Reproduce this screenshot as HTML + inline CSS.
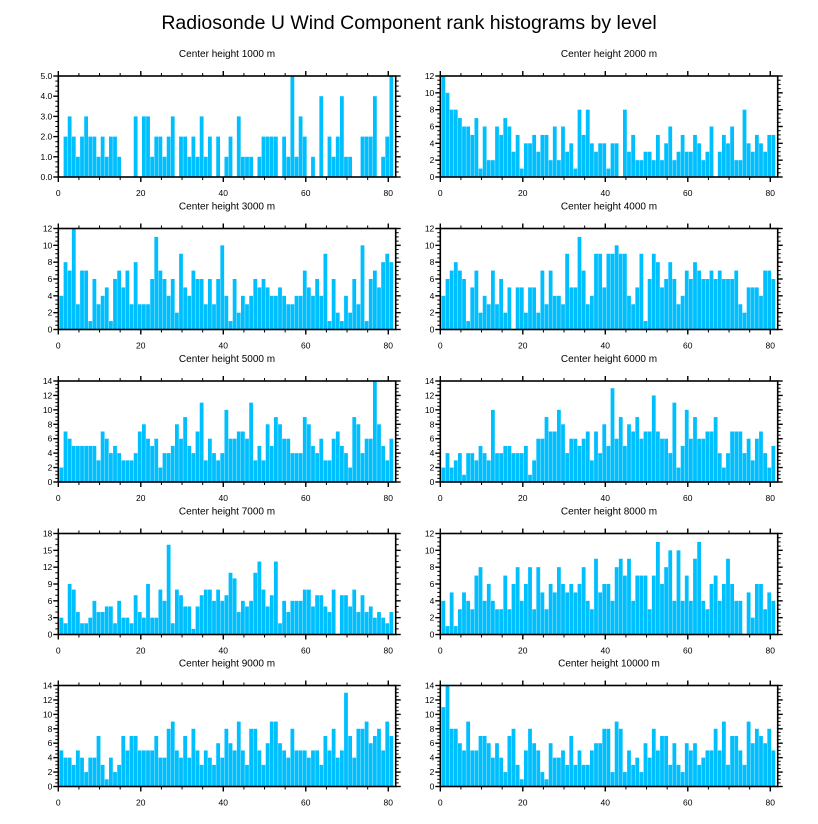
<!DOCTYPE html>
<html><head><meta charset="utf-8"><style>
html,body{margin:0;padding:0;background:#fff;}
svg{display:block;font-family:"Liberation Sans",sans-serif;}
</style></head><body>
<svg id="chart" width="818" height="824" viewBox="0 0 818 824" xmlns="http://www.w3.org/2000/svg">
<text x="409" y="29" text-anchor="middle" font-size="19.5">Radiosonde U Wind Component rank histograms by level</text>
</svg>
<script>
const levels = ["1000","2000","3000","4000","5000","6000","7000","8000","9000","10000"];
const yMaxes = [5,12,12,12,14,14,18,12,14,14];
const yStepArr = [1,2,2,2,2,2,3,2,2,2];
const xTicks = [0,20,40,60,80];
const c1000 = [0,2,3,2,1,2,3,2,2,1,2,1,2,2,1,0,0,0,3,0,3,3,1,2,2,1,2,3,0,2,2,1,2,1,3,1,2,0,2,0,1,2,0,3,1,1,1,0,1,2,2,2,2,0,2,1,5,1,3,2,0,1,0,4,0,2,1,2,4,1,1,0,0,2,2,2,4,0,1,2,5];
const c2000 = [12,10,8,8,7,6,6,5,7,1,6,2,2,6,5,7,6,3,5,1,4,4,5,3,5,5,2,6,2,6,3,4,1,8,5,8,4,3,4,4,1,4,4,0,8,3,5,2,2,3,3,2,5,2,4,6,2,3,5,3,3,5,4,2,3,6,0,3,5,4,6,2,2,8,4,3,5,4,3,5,5];
const c3000 = [4,8,7,12,3,7,7,1,6,3,4,5,1,6,7,5,7,3,8,3,3,3,6,11,7,6,4,6,2,9,5,4,7,6,6,3,6,3,6,10,4,1,6,2,4,3,4,6,5,6,5,4,4,5,4,3,3,4,4,7,5,4,6,4,9,1,6,2,1,4,2,6,3,10,1,6,7,5,8,9,8];
const c4000 = [4,6,7,8,7,6,1,5,7,2,4,3,7,3,6,2,5,0,5,5,2,5,5,2,7,3,7,4,4,3,9,5,5,11,7,3,4,9,9,5,9,9,10,9,9,4,3,5,9,1,6,9,8,5,6,8,6,3,4,7,6,8,7,6,6,7,6,7,6,6,6,7,3,2,5,5,5,4,7,7,6];
const c5000 = [2,7,6,5,5,5,5,5,5,3,7,6,4,5,4,3,3,3,4,7,8,6,5,6,2,4,4,5,8,6,9,5,4,7,11,3,6,4,3,4,10,6,6,7,7,6,11,3,5,3,8,5,9,8,6,6,4,4,4,9,8,5,4,6,3,3,6,7,5,4,2,9,8,4,6,6,14,8,5,3,6];
const c6000 = [2,4,2,3,4,1,4,4,3,5,4,3,10,4,4,5,5,4,4,4,5,1,3,6,6,9,7,7,10,8,4,6,6,5,6,7,3,7,4,8,5,13,6,9,5,8,7,9,6,7,7,12,7,6,6,4,11,2,5,10,6,9,6,6,7,7,9,4,2,4,7,7,7,4,6,3,6,7,4,2,5];
const c7000 = [3,2,9,8,4,2,2,3,6,4,4,5,5,2,6,3,3,2,7,4,3,9,3,3,8,6,16,2,8,7,5,5,1,5,7,8,8,6,8,6,7,11,10,4,6,5,6,11,13,8,5,7,13,2,6,4,6,6,6,8,8,5,7,7,5,4,8,0,7,7,5,8,4,7,4,5,3,4,3,2,4];
const c8000 = [4,1,5,1,3,5,4,3,7,8,4,6,4,3,3,7,3,6,8,4,6,8,3,8,5,3,6,5,8,6,5,6,5,6,8,4,3,9,5,6,6,4,8,9,7,9,4,7,7,7,3,7,11,6,8,10,4,10,4,7,4,9,11,4,3,6,7,4,6,9,6,4,4,0,5,2,6,6,3,5,4];
const c9000 = [5,4,4,3,5,4,2,4,4,7,3,1,4,2,3,7,5,7,7,5,5,5,5,7,4,4,8,9,5,4,7,4,8,5,3,5,4,3,6,4,8,6,5,9,5,3,8,8,5,3,6,9,9,6,5,4,8,5,5,5,4,5,5,3,7,5,8,4,5,13,7,4,8,8,9,6,7,8,5,9,7];
const c10000 = [11,14,8,8,6,5,9,5,5,7,7,6,4,6,4,2,7,8,3,1,5,8,6,5,2,1,6,4,4,5,3,7,3,5,3,3,5,6,6,8,8,2,9,8,2,5,3,4,2,6,4,8,5,7,7,3,6,3,2,6,5,6,3,4,5,5,8,5,9,3,7,7,5,3,9,6,8,7,6,8,5];
const counts = [c1000,c2000,c3000,c4000,c5000,c6000,c7000,c8000,c9000,c10000];

const NS = "http://www.w3.org/2000/svg";
const svg = document.getElementById("chart");
function mk(tag, attrs, parent){ const e=document.createElementNS(NS,tag); for(const k in attrs) e.setAttribute(k,attrs[k]); parent.appendChild(e); return e; }
const XMAX = 81.8, BAR0 = 0.25;
const colLeft = [58.3, 440.3], plotW = 337.4, rowTop = [76,228.5,381,533.5,685.5], plotH = 101;

for (let p=0;p<10;p++){
  const L = colLeft[p%2], T = rowTop[Math.floor(p/2)], B = T+plotH, R = L+plotW;
  const sx = v => L + v/XMAX*plotW;
  const sy = v => B - v/yMaxes[p]*plotH;
  const g = mk("g",{},svg);
  
  
  const t = mk("text",{x:(L+R)/2,y:T-19,"text-anchor":"middle","font-size":"10"},g);
  
  
  t.textContent = "Center height "+levels[p]+" m";
  const data = counts[p];
  for (let j=0;j<data.length;j++){
    if (data[j]<=0) continue;
    const x0 = sx(BAR0+j+0.04), x1 = sx(BAR0+j+0.96);
    const r = mk("rect",{x:x0,y:sy(data[j]),width:x1-x0,height:B-sy(data[j]),fill:"#00bfff"},g);
    
    
  }
  for (let v=0; v<=XMAX; v+=5){
    const x=sx(v), major = v%20===0, len = major?5:3;
    mk("line",{x1:x,x2:x,y1:B,y2:B+len,stroke:"#000","stroke-width":major?1.4:1},g);
    mk("line",{x1:x,x2:x,y1:T,y2:T-len,stroke:"#000","stroke-width":major?1.4:1},g);
  }
  xTicks.forEach(v=>{
    const tl = mk("text",{x:sx(v),y:B+19,"text-anchor":"middle","font-size":"8.5"},g);
    
    
    tl.textContent = v;
  });
  const st = yStepArr[p], minor = st/ (st===3?3:4);
  for (let v=0; v<=yMaxes[p]+1e-9; v+=minor){
    const y = sy(v), isMaj = Math.abs(v/st-Math.round(v/st))<1e-6, len = isMaj?5:3;
    mk("line",{x1:L,x2:L-len,y1:y,y2:y,stroke:"#000","stroke-width":isMaj?1.4:1},g);
    mk("line",{x1:R,x2:R+len,y1:y,y2:y,stroke:"#000","stroke-width":isMaj?1.4:1},g);
  }
  for (let v=0; v<=yMaxes[p]+1e-9; v+=st){
    const yl = mk("text",{x:L-6,y:sy(v)+3,"text-anchor":"end","font-size":"8.5"},g);
    
    
    yl.textContent = p===0 ? v.toFixed(1) : v;
  }
  const fr = mk("rect",{x:L,y:T,width:plotW,height:plotH,fill:"none",stroke:"#000","stroke-width":1.6},g);
  
  
}
</script>
</body></html>
